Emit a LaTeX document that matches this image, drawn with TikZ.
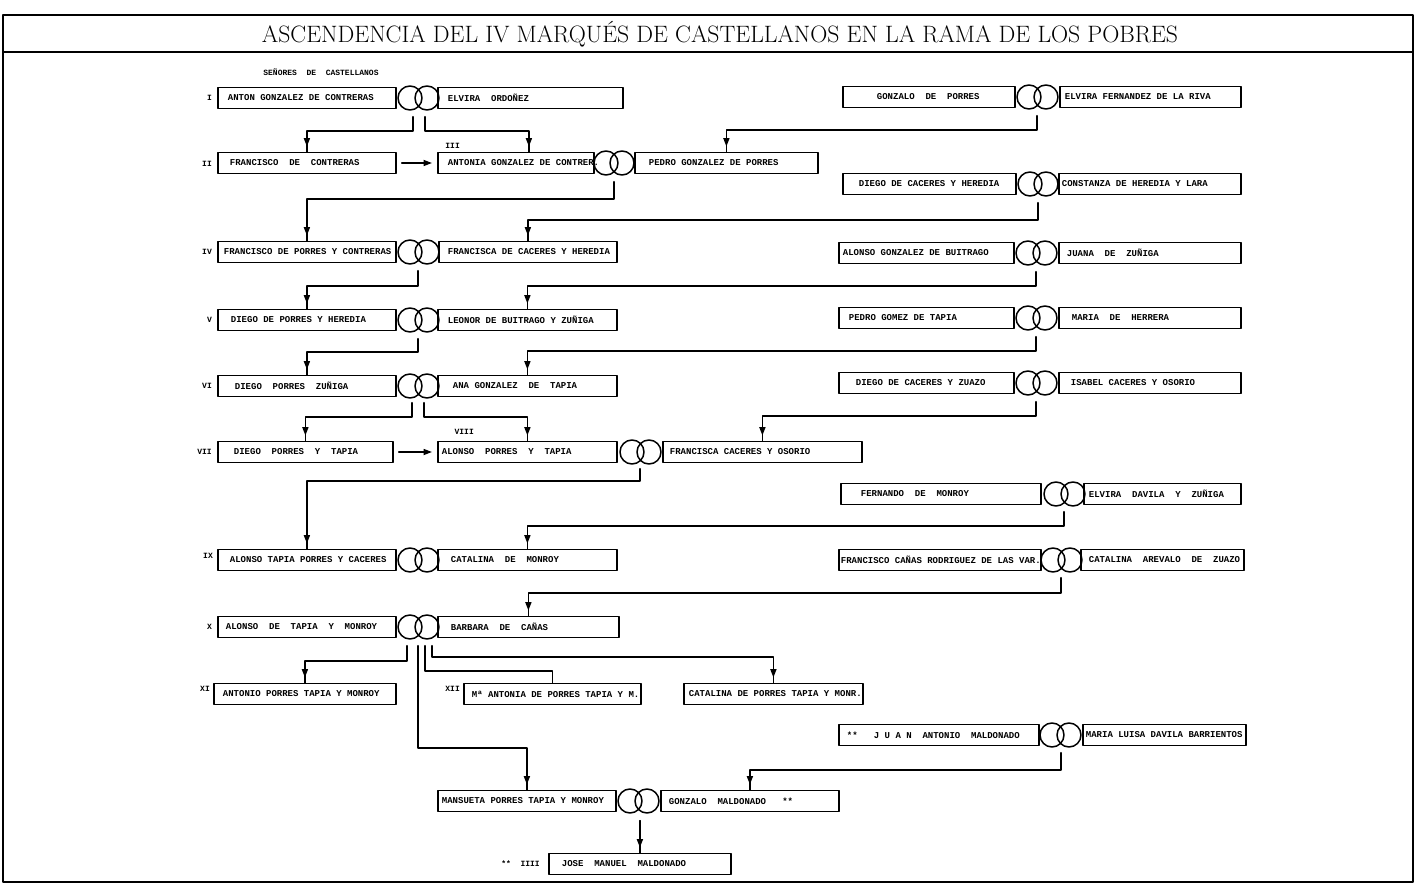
\documentclass[tikz,border=0pt]{standalone}
\usepackage{fontspec}
\newfontfamily\maquina{Liberation Mono}
\usetikzlibrary{arrows.meta,decorations.markings}
\newcommand{\nm}[3]{\makebox[#1pt][l]{\hspace*{#2pt}#3}}

\begin{document}
\begin{tikzpicture}
	[line cap=round,line join=round,>={Triangle[length=8.5pt,width=6pt]},x=1pt,y=-1pt,
	caja/.style={draw,line width=1.8pt,anchor=west,minimum height=21pt,inner xsep=0pt,inner ysep=0pt,font=\maquina\bfseries\fontsize{9}{10}\selectfont},
	anillo/.style={draw,circle,line width=1.5pt,minimum size=24pt,inner sep=0pt},
	num/.style={anchor=east,inner sep=0pt,font=\maquina\bfseries\fontsize{8}{9}\selectfont},
	rama/.style={line width=1.6pt},
	flecha/.style={rama,postaction={decorate},decoration={markings,mark=at position -5pt with {\arrow{>}}}},
	marco/.style={line width=1.2pt}]
	\useasboundingbox (0,0) rectangle (1417,885);
	\draw[marco] (3,15) rectangle (1413,882);
	\draw[marco] (3,52) -- (1413,52);
	\node[font=\fontsize{23.7}{28}\selectfont] (titulo) at (720,34) {ASCENDENCIA DEL IV MARQUÉS DE CASTELLANOS EN LA RAMA DE LOS POBRES};
	\node[num,anchor=center] (senores) at (321,72) {SEÑORES~~DE~~CASTELLANOS};
	% linea de los senores
	\node[num] (nI) at (212,98) {I};
	\node[caja] (a1) at (217,98) {\nm{178}{10}{ANTON GONZALEZ DE CONTRERAS}};
	\node[anillo] (o1a) at (410,98) {};
	\node[anillo] (o1b) at (427,98) {};
	\node[caja] (b1) at (437,98) {\nm{185}{10}{ELVIRA~~ORDOÑEZ}};
	\node[num] (nII) at (212,164) {II};
	\node[caja] (a2) at (217,163) {\nm{178}{12}{FRANCISCO~~DE~~CONTRERAS}};
	\node[num] (nIII) at (460,146) {III};
	\node[caja] (b2) at (437,163) {\nm{156}{10}{ANTONIA GONZALEZ DE CONTRER.}};
	\node[anillo] (o2a) at (606,163) {};
	\node[anillo] (o2b) at (622,163) {};
	\node[caja] (c2) at (634,163) {\nm{183}{14}{PEDRO GONZALEZ DE PORRES}};
	\node[num] (nIV) at (212,252) {IV};
	\node[caja] (a4) at (217,252) {\nm{178}{6}{FRANCISCO DE PORRES Y CONTRERAS}};
	\node[anillo] (o4a) at (410,252) {};
	\node[anillo] (o4b) at (427,252) {};
	\node[caja] (b4) at (438,252) {\nm{178}{9}{FRANCISCA DE CACERES Y HEREDIA}};
	\node[num] (nV) at (212,320) {V};
	\node[caja] (a5) at (217,320) {\nm{178}{13}{DIEGO DE PORRES Y HEREDIA}};
	\node[anillo] (o5a) at (410,320) {};
	\node[anillo] (o5b) at (427,320) {};
	\node[caja] (b5) at (437,320) {\nm{179}{10}{LEONOR DE BUITRAGO Y ZUÑIGA}};
	\node[num] (nVI) at (212,386) {VI};
	\node[caja] (a6) at (217,386) {\nm{178}{17}{DIEGO~~PORRES~~ZUÑIGA}};
	\node[anillo] (o6a) at (410,386) {};
	\node[anillo] (o6b) at (427,386) {};
	\node[caja] (b6) at (437,386) {\nm{179}{15}{ANA GONZALEZ~~DE~~TAPIA}};
	\node[num] (nVII) at (212,452) {VII};
	\node[caja] (a7) at (217,452) {\nm{175}{16}{DIEGO~~PORRES~~Y~~TAPIA}};
	\node[num] (nVIII) at (474,432) {VIII};
	\node[caja] (b7) at (437,452) {\nm{179}{4}{ALONSO~~PORRES~~Y~~TAPIA}};
	\node[anillo] (o7a) at (632,452) {};
	\node[anillo] (o7b) at (649,452) {};
	\node[caja] (c7) at (662,452) {\nm{199}{7}{FRANCISCA CACERES Y OSORIO}};
	\node[num] (nIX) at (213,556) {IX};
	\node[caja] (a9) at (217,560) {\nm{178}{12}{ALONSO TAPIA PORRES Y CACERES}};
	\node[anillo] (o9a) at (410,560) {};
	\node[anillo] (o9b) at (427,560) {};
	\node[caja] (b9) at (437,560) {\nm{179}{13}{CATALINA~~DE~~MONROY}};
	\node[num] (nX) at (212,627) {X};
	\node[caja] (a10) at (217,627) {\nm{178}{8}{ALONSO~~DE~~TAPIA~~Y~~MONROY}};
	\node[anillo] (o10a) at (410,627) {};
	\node[anillo] (o10b) at (427,627) {};
	\node[caja] (b10) at (437,627) {\nm{181}{13}{BARBARA~~DE~~CAÑAS}};
	\node[num] (nXI) at (210,689) {XI};
	\node[caja] (a11) at (213,694) {\nm{182}{9}{ANTONIO PORRES TAPIA Y MONROY}};
	\node[num] (nXII) at (460,689) {XII};
	\node[caja] (b12) at (463,694) {\nm{177}{8}{Mª ANTONIA DE PORRES TAPIA Y M.}};
	\node[caja] (c12) at (683,694) {\nm{179}{5}{CATALINA DE PORRES TAPIA Y MONR.}};
	\node[caja] (m1) at (437,801) {\nm{178}{4}{MANSUETA PORRES TAPIA Y MONROY}};
	\node[anillo] (om1) at (630,801) {};
	\node[anillo] (om2) at (647,801) {};
	\node[caja] (m2) at (660,801) {\nm{178}{8}{GONZALO~~MALDONADO~~~**}};
	\node[num] (nJ) at (540,864) {**~~IIII};
	\node[caja] (j1) at (548,864) {\nm{182}{13}{JOSE~~MANUEL~~MALDONADO}};
	% columna derecha
	\node[caja] (r1a) at (842,97) {\nm{172}{34}{GONZALO~~DE~~PORRES}};
	\node[anillo] (o1c) at (1029,97) {};
	\node[anillo] (o1d) at (1046,97) {};
	\node[caja] (r1b) at (1059,97) {\nm{181}{5}{ELVIRA FERNANDEZ DE LA RIVA}};
	\node[caja] (r2a) at (842,184) {\nm{173}{16}{DIEGO DE CACERES Y HEREDIA}};
	\node[anillo] (o2c) at (1030,184) {};
	\node[anillo] (o2d) at (1046,184) {};
	\node[caja] (r2b) at (1058,184) {\nm{182}{3}{CONSTANZA DE HEREDIA Y LARA}};
	\node[caja] (r3a) at (838,253) {\nm{175}{4}{ALONSO GONZALEZ DE BUITRAGO}};
	\node[anillo] (o3c) at (1028,253) {};
	\node[anillo] (o3d) at (1045,253) {};
	\node[caja] (r3b) at (1058,253) {\nm{182}{8}{JUANA~~DE~~ZUÑIGA}};
	\node[caja] (r4a) at (838,318) {\nm{175}{10}{PEDRO GOMEZ DE TAPIA}};
	\node[anillo] (o4c) at (1028,318) {};
	\node[anillo] (o4d) at (1045,318) {};
	\node[caja] (r4b) at (1058,318) {\nm{182}{13}{MARIA~~DE~~HERRERA}};
	\node[caja] (r5a) at (838,383) {\nm{175}{17}{DIEGO DE CACERES Y ZUAZO}};
	\node[anillo] (o5c) at (1028,383) {};
	\node[anillo] (o5d) at (1045,383) {};
	\node[caja] (r5b) at (1058,383) {\nm{182}{12}{ISABEL CACERES Y OSORIO}};
	\node[caja] (r6a) at (840,494) {\nm{200}{20}{FERNANDO~~DE~~MONROY}};
	\node[anillo] (o6c) at (1056,494) {};
	\node[anillo] (o6d) at (1073,494) {};
	\node[caja] (r6b) at (1083,494) {\nm{157}{5}{ELVIRA~~DAVILA~~Y~~ZUÑIGA}};
	\node[caja] (r7a) at (838,560) {\nm{202}{2}{FRANCISCO CAÑAS RODRIGUEZ DE LAS VAR.}};
	\node[anillo] (o7c) at (1053,560) {};
	\node[anillo] (o7d) at (1070,560) {};
	\node[caja] (r7b) at (1080,560) {\nm{163}{8}{CATALINA~~AREVALO~~DE~~ZUAZO}};
	\node[caja] (r8a) at (838,735) {\nm{200}{8}{**~~~J~U~A~N~~ANTONIO~~MALDONADO}};
	\node[anillo] (o8c) at (1052,735) {};
	\node[anillo] (o8d) at (1069,735) {};
	\node[caja] (r8b) at (1082,735) {\nm{163}{3}{MARIA LUISA DAVILA BARRIENTOS}};
	% descendencia
	\draw[flecha] ([shift={(3,6)}]o1a.south) -- ++(0,14) -| (a2.north);
	\draw[flecha] ([shift={(-2,6)}]o1b.south) -- ++(0,14) -| ([xshift=13]b2.north);
	\draw[rama,->,shorten <=5pt,shorten >=5pt] (a2.east) -- (b2.west);
	\draw[flecha] ([shift={(8,6)}]o1c.south) -- ++(0,14) -| (c2.north);
	\draw[flecha] ([shift={(8,6)}]o2a.south) -- ++(0,17) -| (a4.north);
	\draw[flecha] ([shift={(8,6)}]o2c.south) -- ++(0,17) -| (b4.north);
	\draw[flecha] ([shift={(8,6)}]o4a.south) -- ++(0,15) -| (a5.north);
	\draw[flecha] ([shift={(8,6)}]o3c.south) -- ++(0,14) -| (b5.north);
	\draw[flecha] ([shift={(8,6)}]o5a.south) -- ++(0,13) -| (a6.north);
	\draw[flecha] ([shift={(8,6)}]o4c.south) -- ++(0,14) -| (b6.north);
	\draw[flecha] ([shift={(2,4)}]o6a.south) -- ++(0,14) -| (a7.north);
	\draw[flecha] ([shift={(-3,4)}]o6b.south) -- ++(0,14) -| (b7.north);
	\draw[rama,->,shorten <=5pt,shorten >=5pt] (a7.east) -- (b7.west);
	\draw[flecha] ([shift={(8,6)}]o5c.south) -- ++(0,14) -| (c7.north);
	\draw[flecha] ([shift={(8,4)}]o7a.south) -- ++(0,12) -| (a9.north);
	\draw[flecha] ([shift={(8,5)}]o6c.south) -- ++(0,14) -| (b9.north);
	\draw[flecha] ([shift={(8,5)}]o7c.south) -- ++(0,15) -| (b10.north);
	\draw[flecha] ([shift={(-3,6)}]o10a.south) -- ++(0,15) -| (a11.north);
	\draw[flecha] ([shift={(8,6)}]o10a.south) -- ++(0,102) -| (m1.north);
	\draw[rama] ([shift={(-2,6)}]o10b.south) -- ++(0,25) -| (b12.north);
	\draw[flecha] ([shift={(5,6)}]o10b.south) -- ++(0,11) -| (c12.north);
	\draw[flecha] ([shift={(9,5)}]o8c.south) -- ++(0,17) -| (m2.north);
	\draw[flecha] ([yshift=32]j1.north) -- (j1.north);
\end{tikzpicture}
\end{document}
